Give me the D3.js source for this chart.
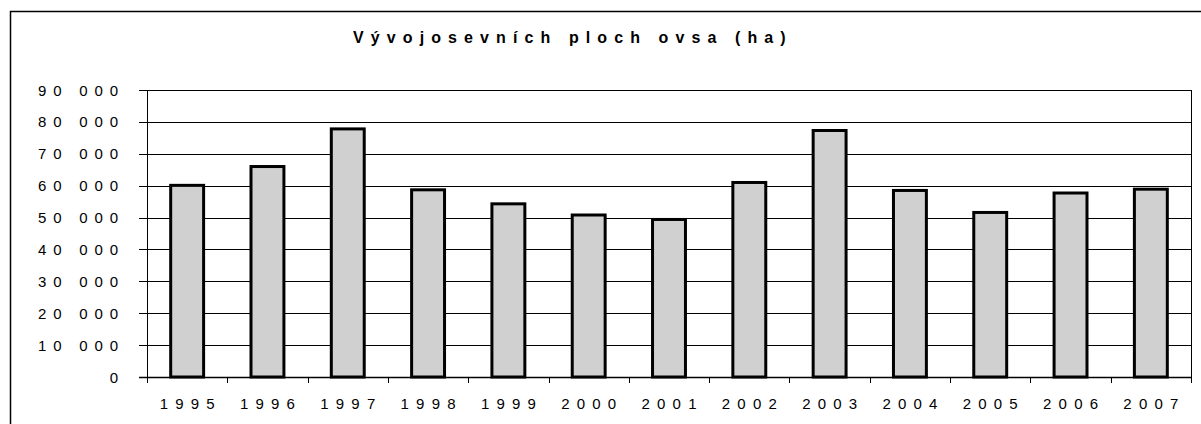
<!DOCTYPE html>
<html lang="cs">
<head>
<meta charset="utf-8">
<script src="https://d3js.org/d3.v7.min.js"></script>
<style>
  body { margin: 0; background: #fff; }
  text { font-family: "Liberation Sans", Arial, sans-serif; fill: #000; }
</style>
</head>
<body>
<svg id="chart" width="1201" height="424"></svg>
<script>
// data
const years = ["1995", "1996", "1997", "1998", "1999", "2000", "2001",
               "2002", "2003", "2004", "2005", "2006", "2007"];
const area = [60100, 66000, 77800, 58700, 54300, 50800, 49400,
              61000, 77300, 58500, 51600, 57700, 58900];
const yTicks = [0, 10000, 20000, 30000, 40000, 50000, 60000, 70000, 80000, 90000];
const title = "Vývojosevních ploch ovsa (ha)";

const svg = d3.select("#chart");
const plot = {left: 147, right: 1191, top: 90, bottom: 377};

// outer frame (runs off the right and bottom of the picture)
svg.append("rect")
    .attr("x", 10.5).attr("y", 11.5)
    .attr("width", 1250).attr("height", 450)
    .attr("fill", "none").attr("stroke", "#000").attr("stroke-width", 1.5);

const x = d3.scaleBand().domain(years).range([plot.left, plot.right]).paddingInner(0.59).paddingOuter(0.295);
const xEdge = d3.scaleBand().domain(years).range([plot.left, plot.right]);
const y = d3.scaleLinear().domain([0, 90000]).range([plot.bottom, plot.top]);

const fmt = d3.formatLocale({decimal: ",", thousands: " ", grouping: [3], currency: ["", ""]}).format(",d");

// gridlines
svg.append("g")
  .selectAll("line")
  .data(yTicks.filter(d => d > 0))
  .join("line")
    .attr("x1", plot.left - 8).attr("x2", plot.right)
    .attr("y1", d => Math.round(y(d)) + 0.5).attr("y2", d => Math.round(y(d)) + 0.5)
    .attr("stroke", "#000").attr("stroke-width", 1);

// y labels
svg.append("g")
  .selectAll("text")
  .data(yTicks)
  .join("text")
    .attr("x", 124.8)
    .attr("y", d => y(d) + 5.5)
    .attr("text-anchor", "end")
    .style("font-size", "15px")
    .style("letter-spacing", "6.8px")
    .text(d => fmt(d));

// bars
svg.append("g")
  .selectAll("rect")
  .data(area)
  .join("rect")
    .attr("x", (d, i) => x(years[i]))
    .attr("y", d => y(d))
    .attr("width", x.bandwidth())
    .attr("height", d => plot.bottom - y(d))
    .attr("fill", "#d0d0d0")
    .attr("stroke", "#000")
    .attr("stroke-width", 3);

// axes lines
svg.append("line")
    .attr("x1", plot.left + 0.5).attr("x2", plot.left + 0.5)
    .attr("y1", plot.top).attr("y2", plot.bottom + 6)
    .attr("stroke", "#000");
svg.append("line")
    .attr("x1", plot.right + 0.5).attr("x2", plot.right + 0.5)
    .attr("y1", plot.top).attr("y2", plot.bottom + 6)
    .attr("stroke", "#000");
svg.append("line")
    .attr("x1", plot.left - 8).attr("x2", plot.right)
    .attr("y1", plot.bottom + 0.5).attr("y2", plot.bottom + 0.5)
    .attr("stroke", "#000").attr("stroke-width", 1.5);

// x ticks between categories
svg.append("g")
  .selectAll("line")
  .data(years.slice(1))
  .join("line")
    .attr("x1", d => Math.round(xEdge(d)) + 0.5).attr("x2", d => Math.round(xEdge(d)) + 0.5)
    .attr("y1", plot.bottom).attr("y2", plot.bottom + 6)
    .attr("stroke", "#000");

// x labels
svg.append("g")
  .selectAll("text")
  .data(years)
  .join("text")
    .attr("x", d => x(d) + x.bandwidth() / 2 + 3.6)
    .attr("y", 408.5)
    .attr("text-anchor", "middle")
    .style("font-size", "15px")
    .style("letter-spacing", "7.2px")
    .text(d => d);

// title
svg.append("text")
    .attr("x", 353)
    .attr("y", 43)
    .style("font-size", "16px")
    .style("font-weight", "bold")
    .style("letter-spacing", "7.1px")
    .text(title);
</script>
</body>
</html>
